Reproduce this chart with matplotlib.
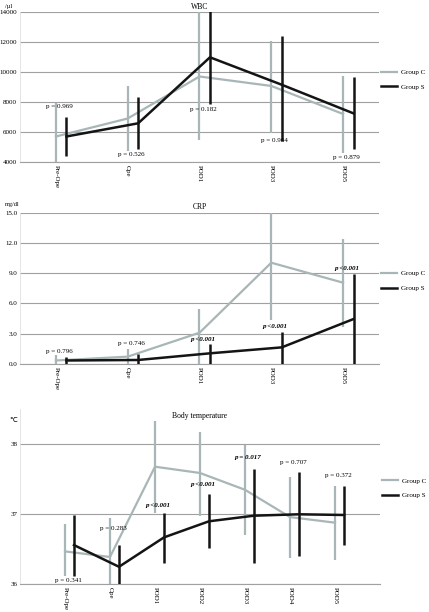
import numpy as np
import matplotlib.pyplot as plt

plt.rcParams['font.family'] = ['Liberation Serif', 'DejaVu Serif']

GRAY = '#a9b6b7'
BLACK = '#141414'
GRID = '#a0a0a0'

# WBC (/µl)
wbc_cats = ['Pre-Ope', 'Ope', 'POD1', 'POD3', 'POD5']
wbc_c = [5700, 6900, 9700, 9070, 7200]
wbc_c_hi = [7900, 9070, 14500, 12090, 9730]
wbc_c_lo = [3500, 4760, 5470, 5960, 4620]
wbc_s = [5700, 6580, 10980, 9150, 7240]
wbc_s_hi = [7020, 8360, 14500, 12400, 9640]
wbc_s_lo = [4400, 4840, 7840, 5420, 4870]
wbc_p = ['p = 0.969', 'p = 0.526', 'p = 0.182', 'p = 0.964', 'p = 0.879']
wbc_p_y = [7670, 4470, 7530, 5400, 4330]

# CRP (mg/dl)
crp_cats = ['Pre-Ope', 'Ope', 'POD1', 'POD3', 'POD5']
crp_c = [0.35, 0.73, 3.1, 10.04, 8.06]
crp_c_hi = [0.9, 1.52, 5.42, 16.0, 12.42]
crp_c_lo = [0.0, 0.0, 0.0, 4.36, 3.7]
crp_s = [0.35, 0.40, 1.06, 1.65, 4.46]
crp_s_hi = [0.65, 1.0, 1.98, 3.17, 8.89]
crp_s_lo = [0.0, 0.0, 0.0, 0.0, 0.0]
crp_p = ['p = 0.796', 'p = 0.746', 'p <0.001', 'p <0.001', 'p <0.001']
crp_p_y = [1.21, 2.0, 2.4, 3.69, 9.43]

# Body temperature (℃)
tmp_cats = ['Pre-Ope', 'Ope', 'POD1', 'POD2', 'POD3', 'POD4', 'POD5']
tmp_c = [36.47, 36.39, 37.68, 37.59, 37.35, 36.96, 36.88]
tmp_c_hi = [36.86, 36.95, 38.34, 38.18, 37.99, 37.53, 37.40]
tmp_c_lo = [36.12, 35.9, 37.02, 36.98, 36.70, 36.38, 36.35]
tmp_s = [36.56, 36.25, 36.67, 36.90, 36.98, 37.00, 36.99]
tmp_s_hi = [36.99, 36.56, 37.02, 37.29, 37.65, 37.61, 37.40]
tmp_s_lo = [36.12, 35.9, 36.30, 36.52, 36.30, 36.40, 36.56]
tmp_p = ['p = 0.341', 'p = 0.283', 'p <0.001', 'p <0.001', 'p = 0.017', 'p = 0.707', 'p = 0.372']
tmp_p_y = [36.05, 36.8, 37.12, 37.43, 37.81, 37.74, 37.55]

fig = plt.figure(figsize=(4.29, 6.12), dpi=100)
ax1 = fig.add_axes([0.0466, 0.7353, 0.8368, 0.2451])
ax2 = fig.add_axes([0.0466, 0.4052, 0.8368, 0.2473])
ax3 = fig.add_axes([0.0466, 0.0453, 0.8392, 0.2859])

FS = 5


def panel(ax, cats, c, c_hi, c_lo, s, s_hi, s_lo, off, ylim, yticks, yfmt):
    x = np.arange(len(cats))
    ax.plot(x, c, color=GRAY, lw=1.6, label='Group C', zorder=3)
    ax.vlines(x, c_lo, c_hi, color=GRAY, lw=1.6, zorder=3)
    ax.plot(x + off, s, color=BLACK, lw=1.8, label='Group S', zorder=4)
    ax.vlines(x + off, s_lo, s_hi, color=BLACK, lw=1.8, zorder=4)
    ax.set_ylim(*ylim)
    ax.set_yticks(yticks)
    ax.set_yticklabels([yfmt.format(v) for v in yticks], fontsize=FS)
    for v in yticks:
        ax.axhline(v, color=GRID, lw=0.8, zorder=1)
    ax.set_xticks(x)
    ax.set_xticklabels(cats, rotation=270, fontsize=FS)
    ax.tick_params(length=0, pad=2)
    for sp in ['top', 'right']:
        ax.spines[sp].set_visible(False)
    ax.spines['left'].set_color('#e0e0e0')
    ax.spines['left'].set_linewidth(0.6)
    ax.spines['bottom'].set_color(GRID)
    ax.spines['bottom'].set_linewidth(0.8)
    ax.legend(loc='center left', bbox_to_anchor=(1.0, 0.55), frameon=False,
              fontsize=FS, handlelength=2.3, handletextpad=0.5,
              borderaxespad=0.3, borderpad=0, labelspacing=1.3)
    return x


x1 = panel(ax1, wbc_cats, wbc_c, wbc_c_hi, wbc_c_lo, wbc_s, wbc_s_hi, wbc_s_lo,
           0.146, (4000, 14000), [4000, 6000, 8000, 10000, 12000, 14000], '{:d}')
ax1.set_xlim(-0.5, 4.5)
for i, t in enumerate(wbc_p):
    ax1.text(x1[i] + 0.05, wbc_p_y[i], t, fontsize=FS, ha='center', va='center', zorder=5)
ax1.text(2.0, 14080, 'WBC', fontsize=FS + 0.5, ha='center', va='bottom')
fig.text(0.012, 0.986, '/µl', fontsize=FS - 0.5, ha='left', va='bottom')

x2 = panel(ax2, crp_cats, crp_c, crp_c_hi, crp_c_lo, crp_s, crp_s_hi, crp_s_lo,
           0.146, (0, 15), [0, 3, 6, 9, 12, 15], '{:.1f}')
ax2.set_xlim(-0.5, 4.5)
for i, t in enumerate(crp_p):
    bold = '<' in t
    ax2.text(x2[i] + 0.05, crp_p_y[i], t, fontsize=FS, ha='center', va='center',
             fontweight='bold' if bold else 'normal',
             fontstyle='italic' if bold else 'normal', zorder=5)
ax2.text(2.0, 15.2, 'CRP', fontsize=FS + 0.5, ha='center', va='bottom')
fig.text(0.012, 0.662, 'mg/dl', fontsize=FS - 0.5, ha='left', va='bottom')

x3 = panel(ax3, tmp_cats, tmp_c, tmp_c_hi, tmp_c_lo, tmp_s, tmp_s_hi, tmp_s_lo,
           0.2, (36, 38.5), [36, 37, 38], '{:d}')
ax3.set_xlim(-1.0, 7.0)
ax3.set_yticklabels(['36', '37', '38'], fontsize=FS)
for i, t in enumerate(tmp_p):
    bold = '<' in t or t.endswith('017')
    ax3.text(x3[i] + 0.07, tmp_p_y[i], t, fontsize=FS, ha='center', va='center',
             fontweight='bold' if bold else 'normal',
             fontstyle='italic' if bold else 'normal', zorder=5)
ax3.text(3.0, 38.40, 'Body temperature', fontsize=FS + 0.5, ha='center', va='center')
fig.text(0.022, 0.313, '℃', fontsize=FS, ha='left', va='center',
         family=['DejaVu Sans'])

fig.savefig('out.png', dpi=100)
